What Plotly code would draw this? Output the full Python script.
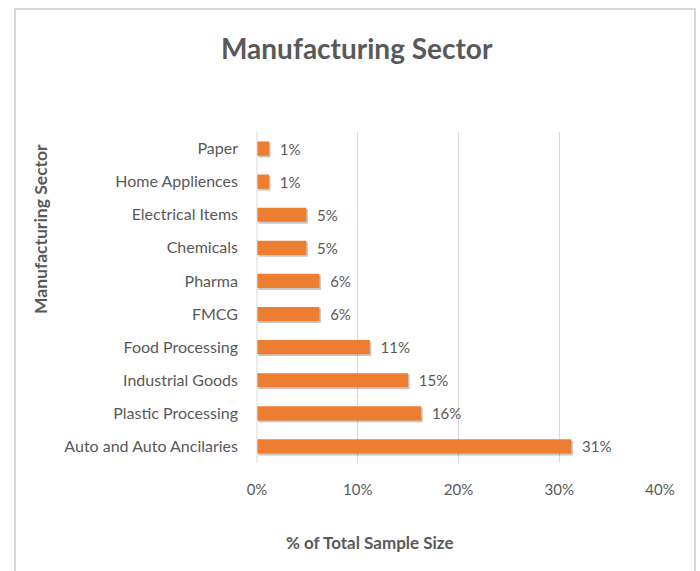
import plotly.graph_objects as go

categories = ["Auto and Auto Ancilaries", "Plastic Processing", "Industrial Goods",
              "Food Processing", "FMCG", "Pharma", "Chemicals", "Electrical Items",
              "Home Appliences", "Paper"]
values = [31.2, 16.3, 15.0, 11.2, 6.2, 6.2, 4.9, 4.9, 1.2, 1.2]
tick_vals = [0, 10, 20, 30, 40]
tick_text = ["0%", "10%", "20%", "30%", "40%"]

FONT = "Lato"
L, R, T, B = 257, 660, 132, 463
W, H = 700, 571


def px_x(p):
    return (p - L) / (R - L)


def px_y(p):
    return (B - p) / (B - T)


fig = go.Figure()
# soft shadow behind the bars
fig.add_trace(go.Bar(
    y=categories, x=values, orientation="h", base=0.15,
    width=0.44, offset=-0.27,
    marker=dict(color="rgba(0,0,0,0.22)", line=dict(width=0)),
    hoverinfo="skip", showlegend=False,
))
fig.add_trace(go.Bar(
    y=categories, x=values, orientation="h",
    width=0.43, offset=-0.215,
    marker=dict(color="#ED7D31", line=dict(width=0)),
    text=[f"{v:.0f}%" for v in values],
    texttemplate="  %{text}",
    textposition="outside", cliponaxis=False, constraintext="none",
    textfont=dict(family=FONT, size=15, color="#595959"),
    showlegend=False,
))

fig.update_layout(
    width=W, height=H,
    margin=dict(l=L, r=W - R, t=T, b=H - B),
    paper_bgcolor="white", plot_bgcolor="white",
    barmode="overlay",
    font=dict(family=FONT, color="#595959"),
    xaxis=dict(range=[0, 40], tickvals=tick_vals, ticktext=tick_text,
               showgrid=True, gridcolor="#d9d9d9", gridwidth=1,
               zeroline=False, showline=False, ticks="",
               ticklabelstandoff=16,
               tickfont=dict(family=FONT, size=15, color="#595959"),
               fixedrange=True),
    yaxis=dict(categoryorder="array", categoryarray=categories,
               showgrid=False, zeroline=False, showline=False, ticks="",
               ticklabelstandoff=18,
               tickfont=dict(family=FONT, size=16, color="#595959")),
    shapes=[
        dict(type="rect", xref="paper", yref="paper",
             x0=px_x(15), x1=px_x(695), y0=px_y(580), y1=px_y(9),
             line=dict(color="#d9d9d9", width=2), fillcolor="rgba(0,0,0,0)",
             layer="below"),
        dict(type="line", xref="paper", yref="paper",
             x0=0, x1=0, y0=0, y1=1, line=dict(color="#d9d9d9", width=1)),
    ],
    annotations=[
        dict(text="<b>Manufacturing Sector</b>", xref="paper", yref="paper",
             x=px_x(357), y=px_y(48), showarrow=False,
             font=dict(family=FONT, size=28, color="#595959"),
             xanchor="center", yanchor="middle"),
        dict(text="<b>Manufacturing Sector</b>", xref="paper", yref="paper",
             x=px_x(40), y=px_y(229), showarrow=False, textangle=-90,
             font=dict(family=FONT, size=17.5, color="#595959"),
             xanchor="center", yanchor="middle"),
        dict(text="<b>% of Total Sample Size</b>", xref="paper", yref="paper",
             x=px_x(370), y=px_y(542), showarrow=False,
             font=dict(family=FONT, size=17, color="#595959"),
             xanchor="center", yanchor="middle"),
    ],
)

fig.write_html("out.html")
